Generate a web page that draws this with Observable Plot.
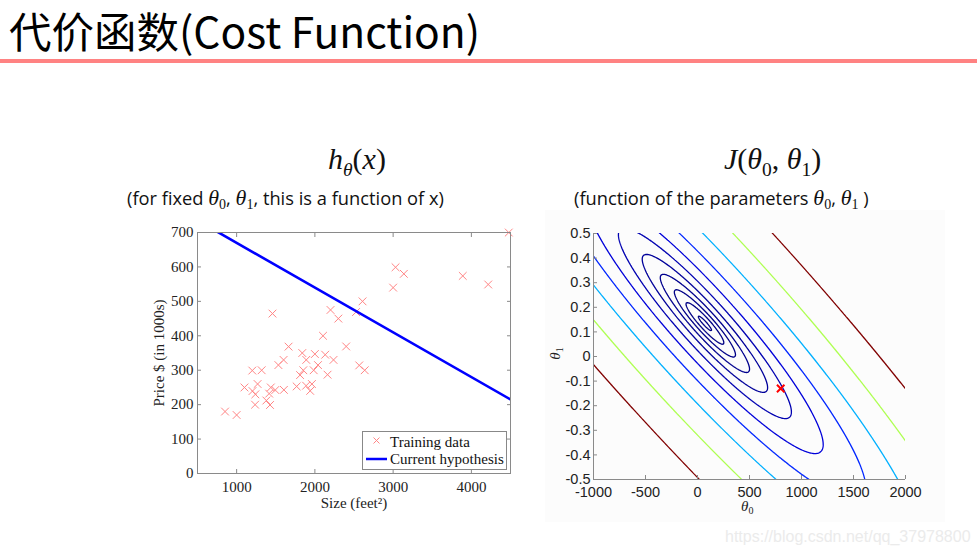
<!DOCTYPE html>
<html><head><meta charset="utf-8">
<script src="https://cdn.jsdelivr.net/npm/d3@7"></script>
<script src="https://cdn.jsdelivr.net/npm/@observablehq/plot@0.6"></script>
<style>
body{margin:0;width:977px;height:557px;position:relative;background:#fff;overflow:hidden;font-family:"Noto Sans",sans-serif}
.abs{position:absolute;white-space:nowrap}
#title{left:9px;top:5px;font-size:42.5px;line-height:50px;font-family:"Noto Sans CJK SC","Noto Sans",sans-serif;color:#000}
#rule{left:0;top:59px;width:977px;height:4px;background:#ff8282}
.math{font-family:"Liberation Serif","DejaVu Serif",serif;font-size:30px;line-height:32px;color:#111}
.math i{font-style:italic}
.math sub{font-size:65%;vertical-align:-0.35em;line-height:0;font-style:normal}
.sub{font-family:"Open Sans","Noto Sans",sans-serif;font-size:18.3px;line-height:22px;color:#111}
.sub .m{font-family:"Liberation Serif",serif;font-style:italic;font-size:22px}
.sub sub{font-family:"Liberation Serif",serif;font-style:normal;font-size:14px;vertical-align:-0.3em;line-height:0}
.th{font-family:"Liberation Serif",serif;font-size:15px;color:#222}
.th sub{font-size:10px;vertical-align:-0.3em;line-height:0}
#bgR{left:545px;top:210px;width:400px;height:312px;background:#fcfcfc}
#wm{left:725px;top:528px;font-family:"Liberation Sans",Arial,sans-serif;font-size:16px;color:#ebebeb}
</style></head>
<body>
<div id="title" class="abs">代价函数(Cost Function)</div>
<div id="rule" class="abs"></div>
<div id="bgR" class="abs"></div>
<div class="abs math" style="left:328px;top:143px"><i>h</i><sub><i>θ</i></sub>(<i>x</i>)</div>
<div class="abs sub" style="left:127px;top:187px">(for fixed <span class="m">θ</span><sub>0</sub>, <span class="m">θ</span><sub>1</sub>, this is a function of x)</div>
<div class="abs math" style="left:724px;top:143px"><i>J</i>(<i>θ</i><sub>0</sub>, <i>θ</i><sub>1</sub>)</div>
<div class="abs sub" style="left:574px;top:187px">(function of the parameters <span class="m">θ</span><sub>0</sub>, <span class="m">θ</span><sub>1</sub> )</div>
<div id="left" class="abs" style="left:130px;top:222px"></div>
<div id="right" class="abs" style="left:540px;top:223px"></div>
<div class="abs th" style="left:741px;top:498px"><i>θ</i><sub>0</sub></div>
<div class="abs th" style="left:549px;top:345px;transform:rotate(-90deg);transform-origin:center"><i>θ</i><sub>1</sub></div>
<svg class="abs" style="left:362px;top:431px" width="146" height="40">
  <rect x="0.5" y="0.5" width="144" height="38" fill="#fff" stroke="#888"/>
  <path d="M11.5,6.5 l6,6 M17.5,6.5 l-6,6" stroke="#ff8585" stroke-width="1"/>
  <line x1="4" y1="28" x2="25" y2="28" stroke="#0000ff" stroke-width="2.5"/>
  <text x="28" y="16" font-family="Liberation Serif" font-size="15" fill="#111">Training data</text>
  <text x="28" y="33" font-family="Liberation Serif" font-size="15" fill="#111">Current hypothesis</text>
</svg>
<div id="wm" class="abs">https://blog.csdn.net/qq_37978800</div>
<script>
// Training data (size in feet², price in $1000s)
const sizes = [2104,1600,2400,1416,3000,1985,1534,1427,1380,1494,1940,2000,1890,4478,1268,2300,1320,1236,2609,3031,1767,1888,1604,1962,3890,1100,1458,2526,2200,2637,1839,1000,2040,3137,1811,1437,1239,2132,4215,2162,1664,2238,2567,1200,852,1852,1203];
const prices = [399.9,329.9,369,232,539.9,299.9,314.9,199,212,242.5,240,347,330,699.9,259.9,449.9,299.9,199.9,500,599,252.9,255,242.9,259.9,573.9,249.9,464.5,469,475,299.9,349.9,169.9,314.9,579.9,285.9,249.9,229.9,345,549,287,368.5,329.9,314,299,179.9,299.9,239.5];
// Current hypothesis parameters
const theta0 = 800;
const theta1 = -0.13;
// Contour levels of J
const levels = [1274, 2336, 4281, 7848, 14384, 26367, 48329, 88587, 162378, 297635, 545559, 1000000];
const levelMin = 10, levelMax = 1000000;
// Tick labels
const xTicksL = [1000, 2000, 3000, 4000];
const yTicksL = [0, 100, 200, 300, 400, 500, 600, 700];
const xTicksR = [-1000, -500, 0, 500, 1000, 1500, 2000];
const yTicksR = [-0.5, -0.4, -0.3, -0.2, -0.1, 0, 0.1, 0.2, 0.3, 0.4, 0.5];
const xDomainL = [500, 4500], yDomainL = [0, 700];
const xDomainR = [-1000, 2000], yDomainR = [-0.5, 0.5];

const training = sizes.map((s, i) => ({size: s, price: prices[i]}));
const hyp = xDomainL.map(s => ({size: s, price: theta0 + theta1 * s}));
const m = sizes.length;
function J(t0, t1) {
  let s = 0;
  for (let i = 0; i < m; i++) { const e = t0 + t1 * sizes[i] - prices[i]; s += e * e; }
  return s / (2 * m);
}
function jet(t) {
  const c = v => Math.round(255 * Math.max(0, Math.min(1, v)));
  return `rgb(${c(1.5 - Math.abs(4*t - 3))},${c(1.5 - Math.abs(4*t - 2))},${c(1.5 - Math.abs(4*t - 1))})`;
}
const gray = "#8a8a8a";
// sample the cost surface a little beyond the frame so contour rings never trace the border
const padX = (xDomainR[1] - xDomainR[0]) * 0.04, padY = (yDomainR[1] - yDomainR[0]) * 0.04;

const left = Plot.plot({
  width: 390, height: 296, marginLeft: 67, marginRight: 10, marginTop: 10, marginBottom: 45,
  x: {domain: xDomainL},
  y: {domain: yDomainL},
  style: {fontFamily: "Liberation Serif, serif", fontSize: "15px", color: "#222", background: "transparent"},
  marks: [
    Plot.axisX({anchor: "bottom", ticks: xTicksL, tickSize: -4, tickPadding: 12, stroke: gray, tickFormat: d => String(d), label: "Size (feet²)", labelAnchor: "center", labelArrow: "none", labelOffset: 34}),
    Plot.axisX({anchor: "top", ticks: xTicksL, tickSize: -4, tickFormat: () => "", stroke: gray, label: null}),
    Plot.axisY({anchor: "left", ticks: yTicksL, tickSize: -4, tickPadding: 8, stroke: gray, label: "Price $ (in 1000s)", labelAnchor: "center", labelArrow: "none", labelOffset: 44}),
    Plot.axisY({anchor: "right", ticks: yTicksL, tickSize: -4, tickFormat: () => "", stroke: gray, label: null}),
    Plot.dot(training, {x: "size", y: "price", symbol: "times", r: 3.6, stroke: "#ff8585", strokeWidth: 1}),
    Plot.line(hyp, {x: "size", y: "price", stroke: "#0000ff", strokeWidth: 2.6, clip: true}),
    Plot.frame({stroke: gray})
  ]
});
document.getElementById("left").appendChild(left);

const right = Plot.plot({
  width: 395, height: 296, marginLeft: 53, marginRight: 30, marginTop: 10, marginBottom: 40,
  x: {domain: xDomainR},
  y: {domain: yDomainR},
  color: {type: "linear", domain: [levelMin, levelMax], interpolate: jet},
  style: {fontFamily: "Liberation Sans, Arial, sans-serif", fontSize: "14.5px", color: "#222", background: "transparent"},
  marks: [
    Plot.contour({value: J, x1: xDomainR[0] - padX, x2: xDomainR[1] + padX, y1: yDomainR[0] - padY, y2: yDomainR[1] + padY, thresholds: levels, stroke: "value", fill: "none", strokeWidth: 1.3, pixelSize: 1, clip: true}),
    Plot.axisX({anchor: "bottom", ticks: xTicksR, tickSize: -4, tickPadding: 11, stroke: gray, tickFormat: d => String(d), label: null}),
    Plot.axisY({anchor: "left", ticks: yTicksR, tickSize: -4, tickPadding: 7, stroke: gray, tickFormat: d => String(Math.round(d * 10) / 10), label: null}),
    Plot.ruleX([xDomainR[0]], {stroke: gray}),
    Plot.ruleY([yDomainR[0]], {stroke: gray}),
    Plot.dot([{t0: theta0, t1: theta1}], {x: "t0", y: "t1", symbol: "times", r: 3.5, stroke: "#ff0000", strokeWidth: 2})
  ]
});
document.getElementById("right").appendChild(right);
</script>
</body></html>
